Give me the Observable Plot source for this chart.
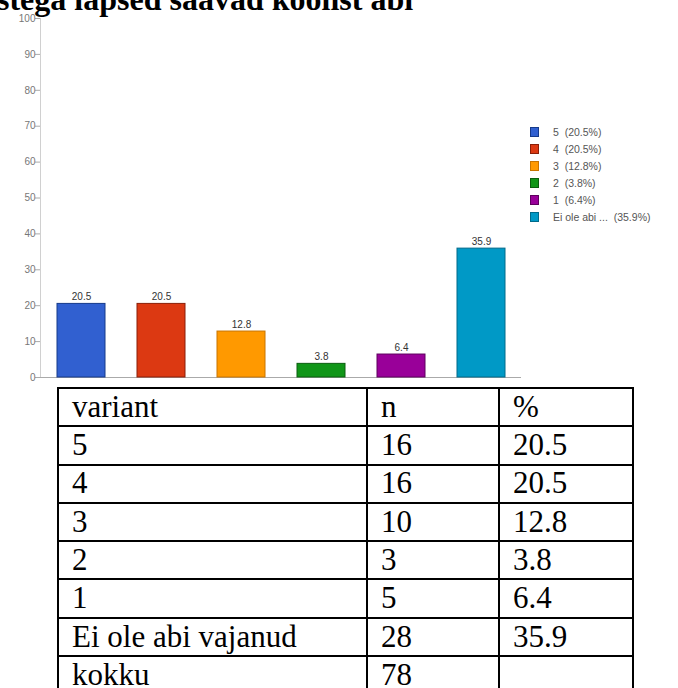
<!DOCTYPE html>
<html>
<head>
<meta charset="utf-8">
<script src="https://cdn.jsdelivr.net/npm/d3@7"></script>
<script src="https://cdn.jsdelivr.net/npm/@observablehq/plot@0.6"></script>
<style>
  html, body { margin: 0; padding: 0; width: 678px; height: 688px; overflow: hidden; background: #fff; }
  #title { position: absolute; left: -3px; top: -17px; font: bold 32px/32px "Liberation Serif", "Times New Roman", serif; color: #000; white-space: nowrap; }
  #chart { position: absolute; left: 0; top: 0; }
  .leg { position: absolute; font: 10.5px/12px Arial, "Liberation Sans", sans-serif; color: #555; white-space: pre; }
  .sw { position: absolute; width: 7px; height: 8px; border: 1px solid; }
  table { position: absolute; left: 57px; top: 387px; border-collapse: collapse; font: 31px "Liberation Serif", "Times New Roman", serif; color: #000; }
  td { border: 2px solid #000; height: 38.3px; padding: 0 0 3.5px 13px; line-height: 30px; vertical-align: bottom; box-sizing: border-box; white-space: nowrap; }
</style>
</head>
<body>
<div id="chart"></div>
<div id="title"></div>
<div id="legend"></div>
<table id="tbl"></table>
<script>
const title = "stega lapsed saavad koolist abi";
const categories = ["5", "4", "3", "2", "1", "Ei ole abi vajanud"];
const legendNames = ["5", "4", "3", "2", "1", "Ei ole abi ..."];
const percents = [20.5, 20.5, 12.8, 3.8, 6.4, 35.9];
const counts = [16, 16, 10, 3, 5, 28];
const totalCount = 78;
const totalLabel = "kokku";
const tableHeader = ["variant", "n", "%"];
const fillColors = ["#3160d0", "#dc3912", "#ff9900", "#109618", "#990099", "#0099c6"];
const edgeColors = ["#163a8a", "#8a1f08", "#c87400", "#0a5e0f", "#5e005e", "#006a8a"];
const yTicks = [0, 10, 20, 30, 40, 50, 60, 70, 80, 90, 100];

document.getElementById("title").textContent = title;

const data = categories.map((c, i) => ({cat: c, pct: percents[i], fill: fillColors[i], edge: edgeColors[i]}));

const chart = Plot.plot({
  width: 678,
  height: 388,
  marginTop: 18,
  marginBottom: 11,
  marginLeft: 40,
  marginRight: 157,
  style: {fontFamily: "Arial, 'Liberation Sans', sans-serif", background: "transparent"},
  x: {domain: categories, paddingInner: 0.4, paddingOuter: 0.2, axis: null},
  y: {domain: [0, 100]},
  marks: [
    Plot.frame({anchor: "left", stroke: "#d0d0d0"}),
    Plot.axisY(yTicks, {tickSize: 5, tickPadding: 0, fontSize: 10, color: "#777", label: null, stroke: "#aaa"}),
    Plot.ruleY([0], {stroke: "#aaa"}),
    Plot.barY(data, {x: "cat", y: "pct", fill: "fill", stroke: "edge", strokeWidth: 1}),
    Plot.text(data, {x: "cat", y: "pct", text: d => d.pct.toFixed(1), dy: -7, fontSize: 10, fill: "#333"})
  ]
});
document.getElementById("chart").appendChild(chart);

// legend
const legend = document.getElementById("legend");
const legTop = 132, legStep = 17;
categories.forEach((c, i) => {
  const cy = legTop + i * legStep;
  const sw = document.createElement("div");
  sw.className = "sw";
  sw.style.left = "530px";
  sw.style.top = (cy - 5) + "px";
  sw.style.background = fillColors[i];
  sw.style.borderColor = edgeColors[i];
  legend.appendChild(sw);
  const t = document.createElement("div");
  t.className = "leg";
  t.style.left = "553px";
  t.style.top = (cy - 6) + "px";
  t.textContent = legendNames[i] + "  (" + percents[i].toFixed(1) + "%)";
  legend.appendChild(t);
});

// table
const tbl = document.getElementById("tbl");
const widths = [309, 132, 134];
const rows = [tableHeader].concat(categories.map((c, i) => [c, String(counts[i]), percents[i].toFixed(1)]), [[totalLabel, String(totalCount), ""]]);
rows.forEach(r => {
  const tr = document.createElement("tr");
  r.forEach((v, j) => {
    const td = document.createElement("td");
    td.style.width = widths[j] + "px";
    td.textContent = v;
    tr.appendChild(td);
  });
  tbl.appendChild(tr);
});
</script>
</body>
</html>
